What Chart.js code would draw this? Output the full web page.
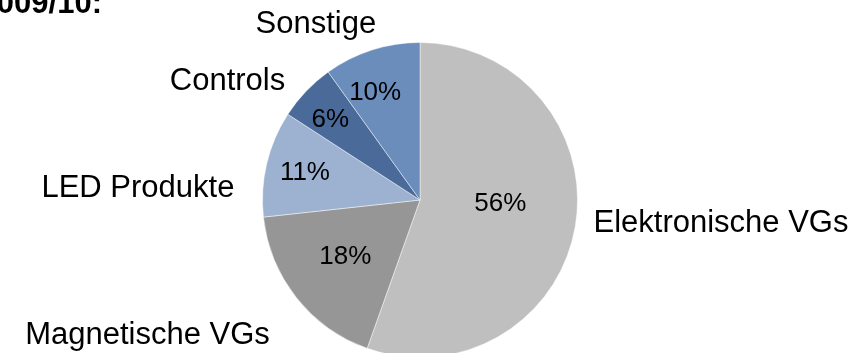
<!DOCTYPE html>
<html>
<head>
<meta charset="utf-8">
<script src="https://cdn.jsdelivr.net/npm/chart.js@4/dist/chart.umd.min.js"></script>
<style>
  html, body { margin: 0; padding: 0; background: #fff; width: 859px; height: 353px; overflow: hidden; }
  #wrap { position: relative; width: 859px; height: 400px; }
  canvas { display: block; }
</style>
</head>
<body>
<div id="wrap"><canvas id="c" width="859" height="400"></canvas></div>
<script>
// Umsatzanteile nach Produktgruppe (in %)
const categories = ['Elektronische VGs', 'Magnetische VGs', 'LED Produkte', 'Controls', 'Sonstige'];
const shares = [56, 18, 11, 6, 10];
const heading = '2009/10:';

// Slice colours
const sliceColors = ['#BFBFBF', '#969696', '#9DB1D1', '#4A6A9A', '#6A8DBC'];

// Value label placement: fraction of radius and angular nudge (degrees)
const valueLabelRadius = [0.51, 0.595, 0.75, 0.765, 0.74];
const valueLabelNudge = [-7.3, 1.2, -0.3, -1.7, -4.8];

// Category label centres, relative to pie centre in units of radius
const categoryLabelPos = [
  [1.911, 0.152],
  [-1.730, 0.861],
  [-1.791, -0.076],
  [-1.222, -0.753],
  [-0.661, -1.114]
];

const FONT = '"Liberation Sans", Arial, Helvetica, sans-serif';

const labelPlugin = {
  id: 'pieLabels',
  afterDatasetsDraw(chart) {
    const ctx = chart.ctx;
    const meta = chart.getDatasetMeta(0);
    ctx.save();
    ctx.fillStyle = '#000';
    ctx.textAlign = 'center';
    ctx.textBaseline = 'middle';
    meta.data.forEach((arc, i) => {
      const p = arc.getProps(['x', 'y', 'startAngle', 'endAngle', 'outerRadius'], true);
      const mid = (p.startAngle + p.endAngle) / 2 + valueLabelNudge[i] * Math.PI / 180;
      const r = p.outerRadius * valueLabelRadius[i];
      ctx.font = '26px ' + FONT;
      ctx.fillText(shares[i] + '%', p.x + Math.cos(mid) * r, p.y + Math.sin(mid) * r);

      const [fx, fy] = categoryLabelPos[i];
      ctx.font = '31px ' + FONT;
      ctx.fillText(categories[i], p.x + fx * p.outerRadius, p.y + fy * p.outerRadius);
    });

    // Heading, partly outside the left edge
    ctx.font = 'bold 31px ' + FONT;
    ctx.textAlign = 'right';
    ctx.textBaseline = 'alphabetic';
    ctx.fillText(heading, 102, 12.7);
    ctx.restore();
  }
};

new Chart(document.getElementById('c'), {
  type: 'pie',
  data: {
    labels: categories,
    datasets: [{
      data: shares,
      backgroundColor: sliceColors,
      borderColor: 'rgba(255,255,255,0.45)',
      borderWidth: 1
    }]
  },
  options: {
    responsive: false,
    animation: false,
    events: [],
    layout: { padding: { left: 262, right: 281, top: 42, bottom: 42 } },
    plugins: {
      legend: { display: false },
      tooltip: { enabled: false },
      title: { display: false }
    }
  },
  plugins: [labelPlugin]
});
</script>
</body>
</html>
